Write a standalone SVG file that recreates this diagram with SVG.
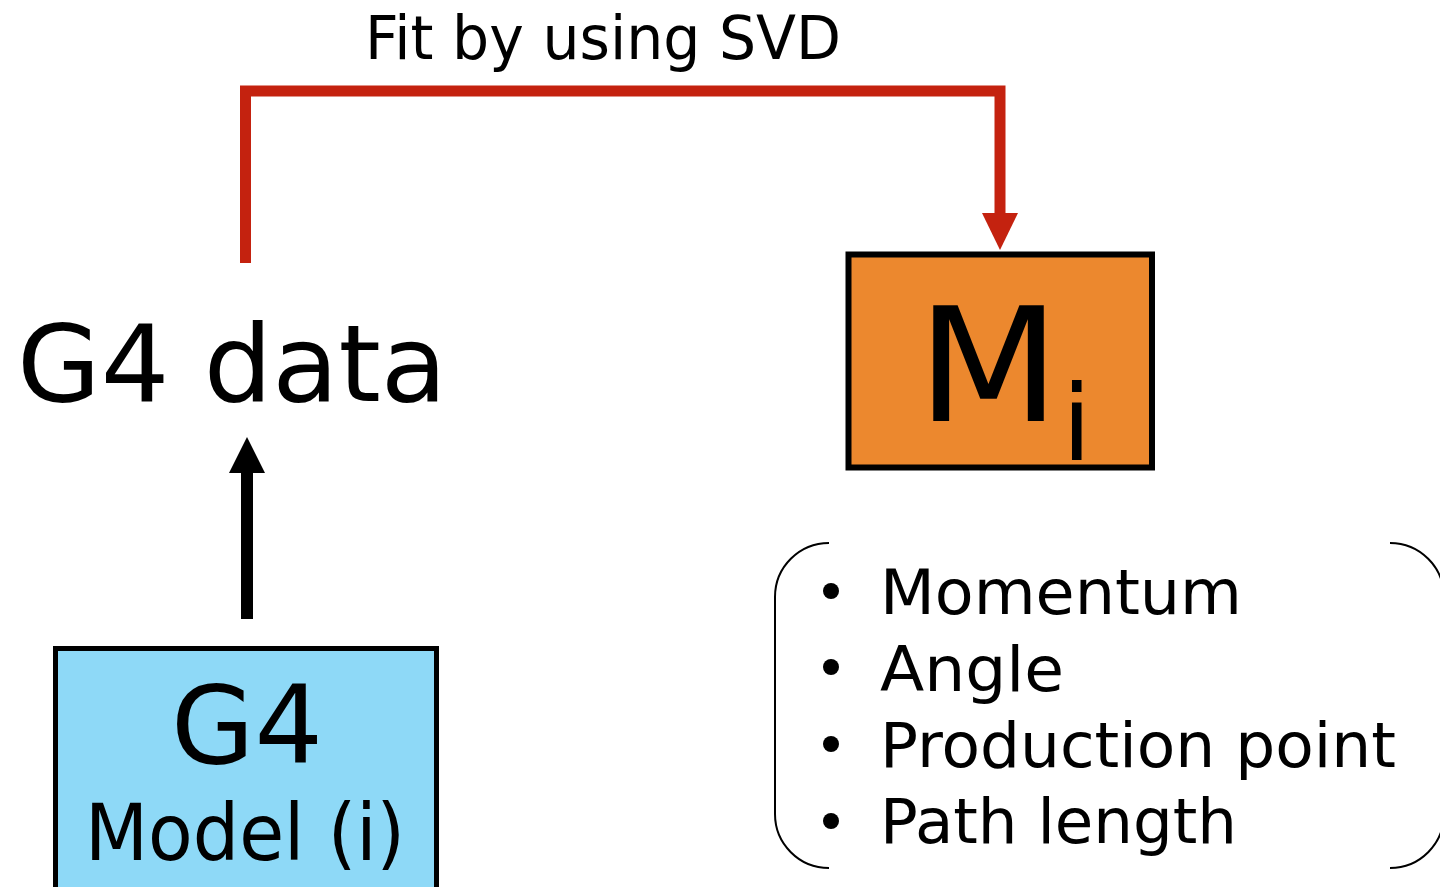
<svg xmlns="http://www.w3.org/2000/svg" width="1440" height="887" viewBox="0 0 1440 887">
  <style>
    .t { font-family: "DejaVu Sans", "Liberation Sans", sans-serif; fill: #000; }
    .box { stroke: #000; stroke-width: 6; }
    .brace { fill: none; stroke: #000; stroke-width: 2; }
  </style>
  <defs>
    <marker id="headRed" markerUnits="userSpaceOnUse" viewBox="0 0 37 36" refX="0.5" refY="18" markerWidth="37" markerHeight="36" orient="auto">
      <path d="M0,0 L37,18 L0,36 z" fill="#C4220F"/>
    </marker>
    <marker id="headBlack" markerUnits="userSpaceOnUse" viewBox="0 0 36 36" refX="0.5" refY="18" markerWidth="36" markerHeight="36" orient="auto">
      <path d="M0,0 L36,18 L0,36 z" fill="#000"/>
    </marker>
  </defs>
  <rect width="1440" height="887" fill="#fff"/>

  <!-- connectors -->
  <g id="connectors">
    <path id="fit-arrow" d="M245.5,263 V91 H1000 V213.5" fill="none" stroke="#C4220F" stroke-width="11" marker-end="url(#headRed)"/>
    <path id="sim-arrow" d="M247,619 V472.5" fill="none" stroke="#000" stroke-width="12" marker-end="url(#headBlack)"/>
  </g>

  <text class="t" x="365" y="59" font-size="60" textLength="476" lengthAdjust="spacingAndGlyphs">Fit by using SVD</text>

  <g id="g4-data">
    <text class="t" x="17" y="401" font-size="107" textLength="430" lengthAdjust="spacingAndGlyphs">G4 data</text>
  </g>

  <g id="m-i">
    <rect class="box" x="848.5" y="254.5" width="303.5" height="213" fill="#EC882E"/>
    <text class="t" x="917" y="421" font-size="159" textLength="143" lengthAdjust="spacingAndGlyphs">M</text>
    <text class="t" x="1062" y="460" font-size="106">i</text>
  </g>

  <g id="g4-model">
    <rect x="55.5" y="648.5" width="381" height="260" fill="#8ED9F7" stroke="#000" stroke-width="5"/>
    <text class="t" x="171" y="763" font-size="108" textLength="152" lengthAdjust="spacingAndGlyphs">G4</text>
    <text class="t" x="85" y="860" font-size="78" textLength="320" lengthAdjust="spacingAndGlyphs">Model (i)</text>
  </g>

  <g id="quantities">
    <path class="brace" d="M829,543 A54,54 0 0 0 775,597 V814 A54,54 0 0 0 829,868"/>
    <path class="brace" d="M1390,543 A54,54 0 0 1 1444,597 V814 A54,54 0 0 1 1390,868"/>
    <circle cx="831" cy="591" r="8"/>
    <circle cx="831" cy="667" r="8"/>
    <circle cx="831" cy="744" r="8"/>
    <circle cx="831" cy="821" r="8"/>
    <text class="t" x="880" y="614" font-size="63" textLength="362" lengthAdjust="spacingAndGlyphs">Momentum</text>
    <text class="t" x="880" y="691" font-size="63" textLength="184" lengthAdjust="spacingAndGlyphs">Angle</text>
    <text class="t" x="880" y="767" font-size="63" textLength="516" lengthAdjust="spacingAndGlyphs">Production point</text>
    <text class="t" x="880" y="843" font-size="63" textLength="357" lengthAdjust="spacingAndGlyphs">Path length</text>
  </g>
</svg>
